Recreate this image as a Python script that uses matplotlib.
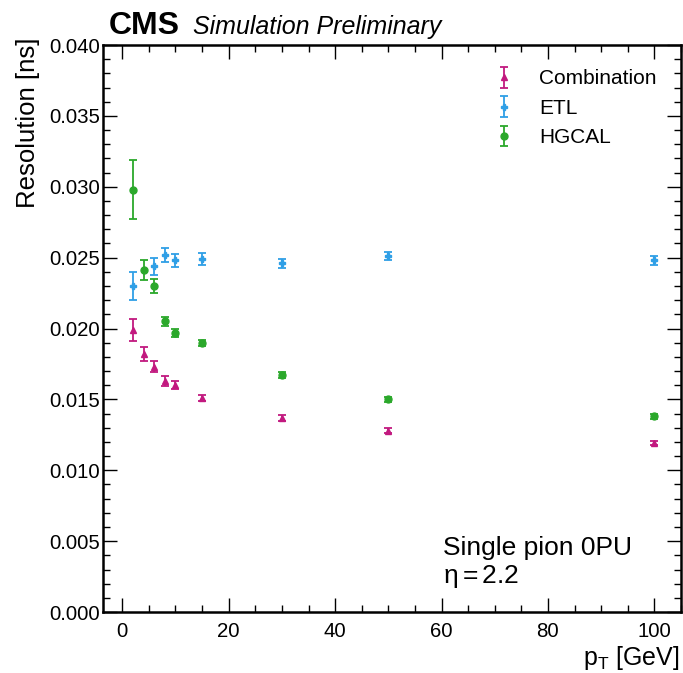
import matplotlib
matplotlib.use("Agg")
import matplotlib.pyplot as plt
from matplotlib.ticker import MultipleLocator, FormatStrFormatter

pt = [2, 4, 6, 8, 10, 15, 30, 50, 100]
comb = [0.0199, 0.0182, 0.0173, 0.0163, 0.0160, 0.0151, 0.0137, 0.0128, 0.0119]
comb_err = [0.0008, 0.0005, 0.0004, 0.00035, 0.0003, 0.0002, 0.0002, 0.00015, 0.00015]
pt_etl = [2, 6, 8, 10, 15, 30, 50, 100]
etl = [0.0230, 0.0244, 0.0252, 0.0248, 0.0249, 0.0246, 0.0251, 0.0248]
etl_err = [0.0010, 0.0006, 0.0005, 0.00045, 0.0004, 0.0003, 0.0003, 0.0003]
hgcal = [0.0298, 0.0241, 0.0230, 0.0205, 0.0197, 0.0190, 0.0167, 0.0150, 0.0138]
hgcal_err = [0.0021, 0.0007, 0.0005, 0.0003, 0.0003, 0.0002, 0.0002, 0.00015, 0.00015]

plt.rcParams['font.family'] = ['Liberation Sans', 'DejaVu Sans']
plt.rcParams['mathtext.fontset'] = 'custom'
plt.rcParams['mathtext.rm'] = 'Liberation Sans'
plt.rcParams['mathtext.it'] = 'Liberation Sans:italic'

fig = plt.figure(figsize=(6.83, 6.73), dpi=100)
ax = fig.add_axes([0.151, 0.0906, 0.846, 0.8425])

c_comb = '#c2197f'
c_etl = '#2f9fe6'
c_hg = '#2ba82b'

ax.errorbar(pt, comb, yerr=comb_err, fmt='^', color=c_comb, ms=5, capsize=3, elinewidth=1.3, capthick=1.3, label='Combination')
ax.errorbar(pt_etl, etl, yerr=etl_err, fmt='P', color=c_etl, ms=4, capsize=3, elinewidth=1.3, capthick=1.3, label='ETL')
ax.errorbar(pt, hgcal, yerr=hgcal_err, fmt='o', color=c_hg, ms=5, capsize=3, elinewidth=1.3, capthick=1.3, label='HGCAL')

ax.set_xlim(-3.6, 105)
ax.set_ylim(0, 0.040)
ax.xaxis.set_major_locator(MultipleLocator(20))
ax.xaxis.set_minor_locator(MultipleLocator(5))
ax.yaxis.set_major_locator(MultipleLocator(0.005))
ax.yaxis.set_minor_locator(MultipleLocator(0.001))
ax.yaxis.set_major_formatter(FormatStrFormatter('%.3f'))
ax.tick_params(which='both', direction='in', top=True, right=True, labelsize=14.7, width=1)
ax.tick_params(which='major', length=10)
ax.tick_params(which='minor', length=5)
ax.tick_params(axis='x', which='major', pad=7)
ax.tick_params(axis='y', which='major', pad=2)
for s in ax.spines.values():
    s.set_linewidth(1.8)

ax.set_xlabel(r'p$_{\mathrm{T}}$ [GeV]', fontsize=18, loc='right')
ax.set_ylabel('Resolution [ns]', fontsize=18.5, loc='top')
ax.xaxis.set_label_coords(0.998, -0.057)
ax.yaxis.set_label_coords(-0.109, 1.014)

leg = ax.legend(loc='upper right', frameon=False, fontsize=15, handletextpad=0.7,
                bbox_to_anchor=(0.99, 0.99), labelspacing=0.5)

ax.text(0.588, 0.1005, 'Single pion 0PU', transform=ax.transAxes, fontsize=19, va='baseline')
ax.text(0.588, 0.051, r'$\mathrm{\eta = 2.2}$', transform=ax.transAxes, fontsize=19, va='baseline')

ax.text(0.009, 1.019, 'CMS', transform=ax.transAxes, fontsize=23, fontweight='bold', va='baseline')
ax.text(0.156, 1.019, 'Simulation Preliminary', transform=ax.transAxes, fontsize=18, style='italic', va='baseline')

fig.savefig('out.png', dpi=100)
